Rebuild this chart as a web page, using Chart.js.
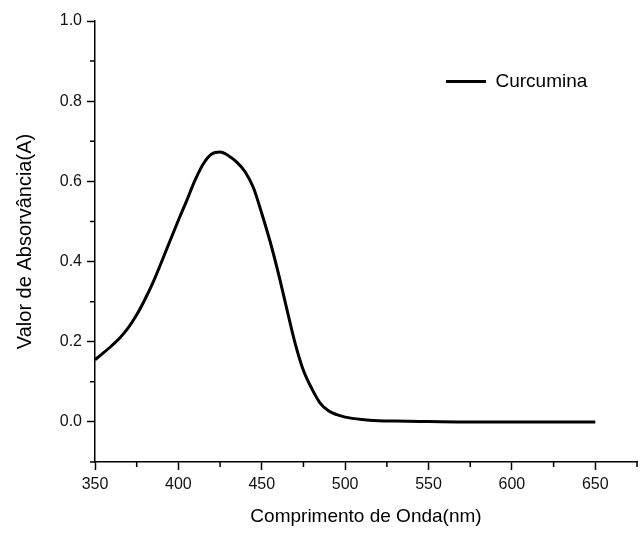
<!DOCTYPE html>
<html>
<head>
<meta charset="utf-8">
<title>Curcumina</title>
<script src="https://cdn.jsdelivr.net/npm/chart.js@4.4.0/dist/chart.umd.min.js"></script>
<style>
  html, body { margin: 0; padding: 0; background: #fff; }
  #wrap { width: 643px; height: 534px; }
</style>
</head>
<body>
<div id="wrap"><canvas id="chart" width="643" height="534"></canvas></div>
<script>
// wavelength (nm) and absorbance
const wavelength = [350, 355, 360, 365, 370, 375, 380, 385, 390, 395, 400, 405, 410, 415, 420, 425, 430, 435, 440, 445, 450, 455, 460, 465, 470, 475, 480, 485, 490, 495, 500, 510, 520, 530, 550, 575, 600, 625, 650];
const absorbance = [0.155, 0.172, 0.190, 0.210, 0.235, 0.267, 0.306, 0.350, 0.400, 0.452, 0.503, 0.552, 0.603, 0.644, 0.668, 0.673, 0.664, 0.648, 0.624, 0.584, 0.520, 0.450, 0.370, 0.282, 0.196, 0.128, 0.083, 0.047, 0.028, 0.018, 0.012, 0.006, 0.003, 0.002, 0.001, 0.0, 0.0, 0.0, 0.0];
const seriesName = 'Curcumina';

// labelled ticks
const xTicks = [350, 400, 450, 500, 550, 600, 650];
const yTicks = [0.0, 0.2, 0.4, 0.6, 0.8, 1.0];
// minor tick positions (no labels)
const xMinor = [375, 425, 475, 525, 575, 625, 675];
const yMinor = [-0.1, 0.1, 0.3, 0.5, 0.7, 0.9];

const FONT = "'Liberation Sans', Arial, sans-serif";

// short outward ticks between the labelled ones
const minorTicks = {
  id: 'minorTicks',
  afterDraw(chart) {
    const ctx = chart.ctx;
    const x = chart.scales.x, y = chart.scales.y;
    const area = chart.chartArea;
    ctx.save();
    ctx.strokeStyle = '#000';
    ctx.lineWidth = 1.5;
    ctx.beginPath();
    xMinor.forEach(v => {
      const px = x.getPixelForValue(v);
      ctx.moveTo(px, area.bottom);
      ctx.lineTo(px, area.bottom + 5);
    });
    yMinor.forEach(v => {
      const py = y.getPixelForValue(v);
      ctx.moveTo(area.left, py);
      ctx.lineTo(area.left - 5, py);
    });
    ctx.stroke();
    ctx.restore();
  }
};

// put the legend inside the plot, upper right
const legendSpot = {
  id: 'legendSpot',
  afterLayout(chart) {
    const lg = chart.legend;
    const w = lg.width, h = lg.height;
    lg.left = 436;
    lg.top = 62;
    lg.right = lg.left + w;
    lg.bottom = lg.top + h;
  }
};

const ctx = document.getElementById('chart').getContext('2d');
new Chart(ctx, {
  type: 'line',
  data: {
    datasets: [{
      label: seriesName,
      data: wavelength.map((w, i) => ({ x: w, y: absorbance[i] })),
      borderColor: '#000',
      backgroundColor: '#000',
      borderWidth: 3,
      pointRadius: 0,
      cubicInterpolationMode: 'monotone',
      fill: false
    }]
  },
  options: {
    responsive: false,
    animation: false,
    devicePixelRatio: 1,
    layout: { padding: { left: 9, right: 6, top: 21, bottom: 2 } },
    plugins: {
      tooltip: { enabled: false },
      legend: {
        position: 'chartArea',
        align: 'start',
        labels: {
          usePointStyle: true,
          pointStyle: 'line',
          pointStyleWidth: 40,
          padding: 10,
          color: '#000',
          font: { family: FONT, size: 19 }
        }
      }
    },
    scales: {
      x: {
        type: 'linear',
        min: 350,
        max: 675,
        bounds: 'data',
        afterFit: s => { s.height = 70; },
        afterBuildTicks: s => { s.ticks = xTicks.map(v => ({ value: v })); },
        border: { display: true, color: '#000', width: 1.5 },
        grid: { drawOnChartArea: false, drawTicks: true, tickLength: 8, tickColor: '#000', tickWidth: 1.5 },
        ticks: {
          padding: 5,
          color: '#111',
          maxRotation: 0,
          autoSkip: false,
          font: { family: FONT, size: 16 }
        },
        title: {
          display: true,
          text: 'Comprimento de Onda(nm)',
          color: '#000',
          font: { family: FONT, size: 19 }
        }
      },
      y: {
        type: 'linear',
        min: -0.1,
        max: 1.0,
        bounds: 'data',
        afterFit: s => { s.width = 86; },
        afterBuildTicks: s => { s.ticks = yTicks.map(v => ({ value: v })); },
        border: { display: true, color: '#000', width: 1.5 },
        grid: { drawOnChartArea: false, drawTicks: true, tickLength: 8, tickColor: '#000', tickWidth: 1.5 },
        ticks: {
          padding: 5,
          color: '#111',
          autoSkip: false,
          font: { family: FONT, size: 16 },
          callback: v => Number(v).toFixed(1)
        },
        title: {
          display: true,
          text: 'Valor de Absorvância(A)',
          color: '#000',
          font: { family: FONT, size: 20 }
        }
      }
    }
  },
  plugins: [minorTicks, legendSpot]
});
</script>
</body>
</html>
